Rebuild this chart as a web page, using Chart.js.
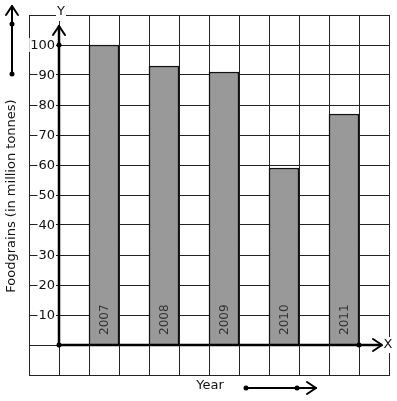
<!DOCTYPE html>
<html>
<head>
<meta charset="utf-8">
<script src="https://cdn.jsdelivr.net/npm/chart.js@4.4.1/dist/chart.umd.min.js"></script>
<style>
  body { margin: 0; background: #fff; }
  canvas { display: block; }
</style>
</head>
<body>
<canvas id="chart" width="397" height="401"></canvas>
<script>
// Chart data
const years = ['2007', '2008', '2009', '2010', '2011'];
const foodgrains = [100, 93, 91, 59, 77];
const yTicks = [10, 20, 30, 40, 50, 60, 70, 80, 90, 100];

// Grid has 12 columns; bars sit in every other column right of the Y axis
const slotCount = 12;
const slotLabels = [];
const slotValues = [];
for (let i = 0; i < slotCount; i++) {
    slotLabels.push('');
    slotValues.push(null);
}
years.forEach((year, i) => {
    slotLabels[i * 2 + 2] = year;
    slotValues[i * 2 + 2] = foodgrains[i];
});

function chevron(ctx, x, y, dir) {
    ctx.beginPath();
    if (dir === 'up') {
        ctx.moveTo(x - 6, y + 9);
        ctx.lineTo(x, y);
        ctx.lineTo(x + 6, y + 9);
    } else {
        ctx.moveTo(x - 9, y - 6);
        ctx.lineTo(x, y);
        ctx.lineTo(x - 9, y + 6);
    }
    ctx.stroke();
}

function dot(ctx, x, y) {
    ctx.beginPath();
    ctx.arc(x, y, 2.5, 0, Math.PI * 2);
    ctx.fill();
}

const annotations = {
    id: 'annotations',
    afterDraw(chart) {
        const ctx = chart.ctx;
        const xs = chart.scales.x;
        const ys = chart.scales.y;
        const area = chart.chartArea;
        const y0 = ys.getPixelForValue(0);
        const x0 = xs.getPixelForValue(0) + 15;

        ctx.save();
        ctx.fillStyle = '#000';
        ctx.strokeStyle = '#000';
        ctx.lineCap = 'round';
        ctx.lineJoin = 'round';

        // Y axis with arrow
        ctx.lineWidth = 2.5;
        ctx.beginPath();
        ctx.moveTo(x0, y0);
        ctx.lineTo(x0, area.top + 11);
        ctx.stroke();
        ctx.lineWidth = 2;
        chevron(ctx, x0, area.top + 11, 'up');

        // X axis with arrow
        ctx.lineWidth = 2.5;
        ctx.beginPath();
        ctx.moveTo(x0, y0);
        ctx.lineTo(area.right - 8, y0);
        ctx.stroke();
        ctx.lineWidth = 2;
        chevron(ctx, area.right - 7, y0, 'right');

        dot(ctx, x0, y0);
        dot(ctx, x0, ys.getPixelForValue(100));
        dot(ctx, xs.getPixelForValue(10) + 15, y0);

        // Y tick labels on white boxes
        ctx.font = '13px "DejaVu Sans"';
        ctx.textBaseline = 'middle';
        ctx.textAlign = 'right';
        yTicks.forEach(v => {
            const py = ys.getPixelForValue(v);
            const text = String(v);
            const w = ctx.measureText(text).width;
            ctx.fillStyle = '#fff';
            ctx.fillRect(x0 - 4 - w - 1, py - 7, w + 2, 14);
            ctx.fillStyle = '#111';
            ctx.fillText(text, x0 - 4, py + 1);
        });

        // Axis letters
        ctx.textAlign = 'center';
        ctx.fillStyle = '#fff';
        ctx.fillRect(x0 - 3, area.top - 8, 10, 14);
        ctx.fillRect(area.right - 6, y0 - 8, 12, 16);
        ctx.fillStyle = '#111';
        ctx.fillText('Y', x0 + 2, area.top - 3);
        ctx.fillText('X', area.right - 1, y0);

        // Year labels inside bars
        const meta = chart.getDatasetMeta(0);
        ctx.font = '12px "DejaVu Sans"';
        ctx.fillStyle = '#333';
        ctx.textAlign = 'left';
        meta.data.forEach((bar, i) => {
            if (slotValues[i] === null) return;
            ctx.save();
            ctx.translate(bar.x, y0 - 10);
            ctx.rotate(-Math.PI / 2);
            ctx.fillText(slotLabels[i], 0, 1);
            ctx.restore();
        });

        // Y axis title and arrow
        ctx.font = '13px "DejaVu Sans"';
        ctx.fillStyle = '#111';
        ctx.textAlign = 'center';
        ctx.save();
        ctx.translate(12, 196);
        ctx.rotate(-Math.PI / 2);
        ctx.fillText('Foodgrains (in million tonnes)', 0, 0);
        ctx.restore();

        ctx.lineWidth = 2;
        ctx.beginPath();
        ctx.moveTo(12, 74);
        ctx.lineTo(12, 6);
        ctx.stroke();
        chevron(ctx, 12, 6, 'up');
        ctx.fillStyle = '#000';
        dot(ctx, 12, 24);
        dot(ctx, 12, 74);

        // X axis title and arrow
        ctx.fillStyle = '#111';
        ctx.fillText('Year', 210, 386);
        ctx.beginPath();
        ctx.moveTo(246, 388);
        ctx.lineTo(316, 388);
        ctx.stroke();
        chevron(ctx, 316, 388, 'right');
        ctx.fillStyle = '#000';
        dot(ctx, 246, 388);
        dot(ctx, 297, 388);

        ctx.restore();
    }
};

new Chart(document.getElementById('chart'), {
    type: 'bar',
    data: {
        labels: slotLabels,
        datasets: [{
            data: slotValues,
            backgroundColor: '#999999',
            borderColor: '#111',
            borderWidth: 1.5,
            barPercentage: 1,
            categoryPercentage: 1
        }]
    },
    options: {
        responsive: false,
        animation: false,
        devicePixelRatio: 1,
        layout: {
            padding: { left: 29, top: 15, right: 8, bottom: 26 }
        },
        scales: {
            x: {
                offset: true,
                grid: { offset: true, color: '#222', lineWidth: 1, drawTicks: false },
                border: { color: '#222', width: 1 },
                ticks: { display: false }
            },
            y: {
                min: -10,
                max: 110,
                ticks: { display: false, stepSize: 10 },
                grid: { color: '#222', lineWidth: 1, drawTicks: false },
                border: { color: '#222', width: 1 }
            }
        },
        plugins: {
            legend: { display: false },
            tooltip: { enabled: false }
        }
    },
    plugins: [annotations]
});
</script>
</body>
</html>
